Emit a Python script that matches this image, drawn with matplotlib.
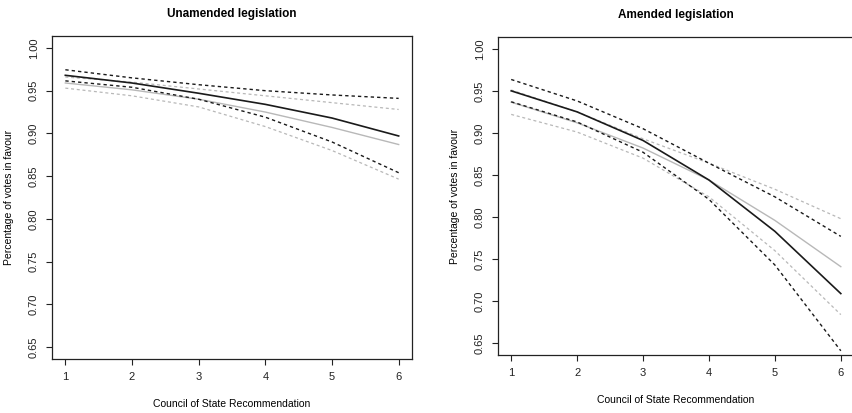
import numpy as np
import matplotlib
matplotlib.use('Agg')
import matplotlib.pyplot as plt

plt.rcParams['font.family'] = ['Liberation Sans', 'DejaVu Sans']

# Council of State recommendation levels
rec = [1, 2, 3, 4, 5, 6]

# Unamended legislation
un_black = [0.968, 0.959, 0.947, 0.934, 0.918, 0.897]
un_black_hi = [0.9745, 0.965, 0.957, 0.950, 0.945, 0.941]
un_black_lo = [0.9615, 0.954, 0.940, 0.919, 0.890, 0.854]
un_grey = [0.959, 0.951, 0.940, 0.925, 0.907, 0.887]
un_grey_hi = [0.966, 0.960, 0.952, 0.944, 0.936, 0.928]
un_grey_lo = [0.953, 0.944, 0.931, 0.908, 0.880, 0.8465]

# Amended legislation
am_black = [0.950, 0.925, 0.891, 0.844, 0.783, 0.709]
am_black_hi = [0.9635, 0.938, 0.905, 0.864, 0.824, 0.777]
am_black_lo = [0.937, 0.913, 0.877, 0.821, 0.743, 0.641]
am_grey = [0.9365, 0.912, 0.882, 0.844, 0.796, 0.741]
am_grey_hi = [0.951, 0.925, 0.893, 0.864, 0.833, 0.798]
am_grey_lo = [0.922, 0.901, 0.870, 0.824, 0.760, 0.684]

yticks = [0.65, 0.70, 0.75, 0.80, 0.85, 0.90, 0.95, 1.00]

fig = plt.figure(figsize=(8.52, 4.13), dpi=100)
ax1 = fig.add_axes([52/852, 1-359/413, 360/852, 323/413])
ax2 = fig.add_axes([498/852, 1-355/413, 356/852, 318/413])

grey = '#b8b8b8'
dash = (0, (2.4, 2.2))

def draw(ax, title, b, bhi, blo, g, ghi, glo):
    ax.plot(rec, g, color=grey, lw=1.0)
    ax.plot(rec, ghi, color=grey, lw=0.9, linestyle=dash)
    ax.plot(rec, glo, color=grey, lw=0.9, linestyle=dash)
    ax.plot(rec, b, color='#1a1a1a', lw=1.2)
    ax.plot(rec, bhi, color='#1a1a1a', lw=1.0, linestyle=dash)
    ax.plot(rec, blo, color='#1a1a1a', lw=1.0, linestyle=dash)
    ax.set_xlim(0.8, 6.2)
    ax.set_ylim(0.636, 1.014)
    ax.set_xticks(rec)
    ax.set_yticks(yticks)
    ax.set_yticklabels(['%.2f' % v for v in yticks], rotation=90, va='center')
    ax.tick_params(direction='out', length=4.5, width=0.8, labelsize=8,
                   colors='#222222', pad=5)
    for s in ax.spines.values():
        s.set_linewidth(0.9)
        s.set_color('#222222')
    ax.set_title(title, fontsize=8.5, fontweight='bold', pad=14)
    ax.set_xlabel('Council of State Recommendation', fontsize=7.5, labelpad=12)
    ax.set_ylabel('Percentage of votes in favour', fontsize=7.5, labelpad=11)

draw(ax1, 'Unamended legislation', un_black, un_black_hi, un_black_lo,
     un_grey, un_grey_hi, un_grey_lo)
draw(ax2, 'Amended legislation', am_black, am_black_hi, am_black_lo,
     am_grey, am_grey_hi, am_grey_lo)

fig.savefig('out.png', dpi=100)
